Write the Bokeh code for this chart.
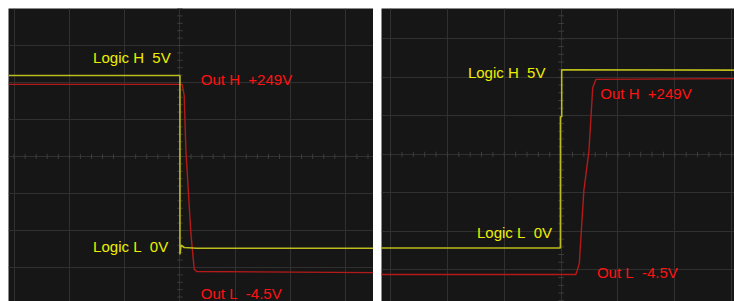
import numpy as np
from bokeh.plotting import figure
from bokeh.layouts import row
from bokeh.models import SingleIntervalTicker
from bokeh.embed import file_html
from bokeh.resources import INLINE
from bokeh.core.properties import value

# ---- data (units: scope divisions) ----
# Left panel: falling edge
left_logic_t = [-3.1, 0.0, 0.0, 0.02, 0.08, 0.3, 3.5]
left_logic_v = [2.19, 2.19, -2.65, -2.40, -2.46, -2.48, -2.48]
left_out_t = [-3.1, 0.04, 0.077, 0.108, 0.198, 0.258, 0.306, 3.5]
left_out_v = [1.95, 1.95, 1.65, 0.16, -2.08, -3.05, -3.11, -3.14]

# Right panel: rising edge
right_logic_t = [-3.2, -0.012, -0.012, 0.01, 0.01, 3.1]
right_logic_v = [-2.43, -2.43, 0.98, 0.98, 2.20, 2.19]
right_out_t = [-3.2, 0.26, 0.32, 0.40, 0.49, 0.556, 0.614, 3.1]
right_out_v = [-3.12, -3.12, -2.83, -0.94, 0.10, 1.74, 1.95, 1.97]

label_texts = ["Logic H\u00a0 5V", "Out H\u00a0 +249V", "Logic L\u00a0 0V", "Out L\u00a0 -4.5V"]
label_kinds = ["logic", "out", "logic", "out"]
left_label_x = [-1.57, 0.378, -1.57, 0.378]
left_label_y = [2.68, 2.08, -2.43, -3.70]
right_label_x = [-1.64, 0.69, -1.48, 0.63]
right_label_y = [2.13, 1.58, -2.02, -3.06]

BG = "#161616"
GRID = "#303030"
YEL_TRACE = "#bcbc1c"
RED_TRACE = "#b41a1a"
YEL_TEXT = "#eeee00"
RED_TEXT = "#ff1212"


def panel(width, height, xr, yr, lt, lv, ot, ov, lx, ly):
    p = figure(width=width, height=height, x_range=xr, y_range=yr,
               output_backend="svg", toolbar_location=None,
               min_border=0, background_fill_color=BG,
               border_fill_color=BG)
    p.outline_line_color = None
    p.axis.visible = False
    p.xgrid.ticker = SingleIntervalTicker(interval=1)
    p.ygrid.ticker = SingleIntervalTicker(interval=1)
    p.grid.grid_line_color = GRID
    p.grid.grid_line_width = 1
    # minor ticks on centre axes
    ys = np.arange(np.ceil(yr[0] * 5), np.floor(yr[1] * 5) + 1) / 5.0
    p.segment(x0=-0.05, x1=0.05, y0=ys, y1=ys, line_color="#3c3c3c", line_width=1)
    xs = np.arange(np.ceil(xr[0] * 5), np.floor(xr[1] * 5) + 1) / 5.0
    p.segment(x0=xs, x1=xs, y0=-0.07, y1=0.07, line_color="#3c3c3c", line_width=1)
    # traces
    p.line(ot, ov, line_color=RED_TRACE, line_width=1.4)
    p.line(lt, lv, line_color=YEL_TRACE, line_width=1.6)
    colors = [YEL_TEXT if k == "logic" else RED_TEXT for k in label_kinds]
    p.text(x=lx, y=ly, text=label_texts, text_color=colors,
           text_font=value("Liberation Sans"), text_font_size="15px",
           text_align="left", text_baseline="middle")
    return p


left = panel(365, 293, (-3.1, 3.5), (-3.92, 4.0),
             left_logic_t, left_logic_v, left_out_t, left_out_v,
             left_label_x, left_label_y)
right = panel(353, 293, (-3.16, 3.05), (-3.82, 3.79),
              right_logic_t, right_logic_v, right_out_t, right_out_v,
              right_label_x, right_label_y)

layout = row(left, right, spacing=8, margin=(8, 0, 0, 8))
open("out.html", "w").write(file_html(layout, INLINE))
